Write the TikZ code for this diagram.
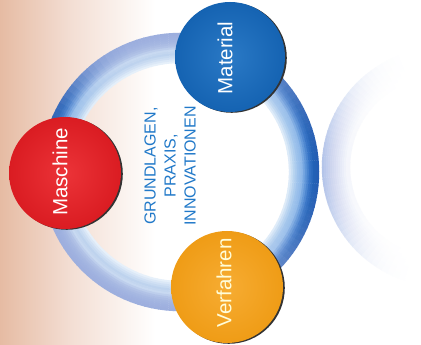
\documentclass[tikz,border=0pt]{standalone}
\usepackage{fontspec}
\setmainfont{Liberation Sans}
\usetikzlibrary{calc}
\definecolor{bgsalmon}{HTML}{E6BBA3}
\definecolor{bgmid}{HTML}{F3DED3}
\definecolor{matblue}{HTML}{1A6FC1}
\definecolor{matdark}{HTML}{1563B2}
\definecolor{masred}{HTML}{EA2429}
\definecolor{masdark}{HTML}{DA1C22}
\definecolor{verorange}{HTML}{F6A623}
\definecolor{verdark}{HTML}{EF9C16}
\definecolor{txtblue}{HTML}{2179C9}
% light ring profile (inner -> outer)
\definecolor{L1}{HTML}{E6F0FA}\definecolor{L2}{HTML}{D0E0F4}\definecolor{L3}{HTML}{BED3EE}
\definecolor{L4}{HTML}{C8D9F1}\definecolor{L5}{HTML}{B2C3E7}\definecolor{L6}{HTML}{A6B8E2}
\definecolor{L7}{HTML}{A0B2E0}\definecolor{L8}{HTML}{9DAFDE}
% dark ring profile
\definecolor{D1}{HTML}{DCEAF8}\definecolor{D2}{HTML}{B8D4F0}\definecolor{D3}{HTML}{9CC2EC}
\definecolor{D4}{HTML}{8AB6E8}\definecolor{D5}{HTML}{5A93D8}\definecolor{D6}{HTML}{2E6FC4}
\definecolor{D7}{HTML}{1A5DB4}\definecolor{D8}{HTML}{1C58B0}
% faint ring profile (outer -> inner)
\definecolor{F1}{HTML}{A9BCE6}\definecolor{F2}{HTML}{B8C6EA}\definecolor{F3}{HTML}{C6CFEC}
\definecolor{F4}{HTML}{D2D8F0}\definecolor{F5}{HTML}{DDE2F4}\definecolor{F6}{HTML}{E8ECF8}
\definecolor{F7}{HTML}{F3F5FB}
\tikzset{
  ballnode/.style={circle, minimum size=#1, inner sep=0pt},
  balltext/.style={rotate=90, font=\fontsize{20.5}{24}\selectfont},
  shadowfill/.style={fill=black!80}
}
\begin{document}
\begin{tikzpicture}[x=1pt,y=1pt]
\useasboundingbox (0,0) rectangle (421,345);
\clip (0,0) rectangle (421,345);
% background
\fill[white] (0,0) rectangle (421,345);
\shade[left color=bgsalmon, right color=bgmid] (0,0) rectangle (70,345);
\shade[left color=bgmid, right color=white] (70,0) rectangle (155,345);
% faint ring on the right
\coordinate (rc) at (441,178);
\foreach \a in {96,99,...,264}{
  \pgfmathtruncatemacro{\w}{88*(abs(cos(\a)))^4}
  \foreach \i/\j/\r in {1/1/118,1/2/116,2/2/114,2/3/112,3/3/110,3/4/108,4/4/106,4/5/104,5/5/102,5/6/100,6/6/98,6/7/96,7/7/94,7/7/92}{
    \colorlet{ca}{F\i!50!F\j}
    \colorlet{tmpc}{ca!\w!white}
    \draw[tmpc, line width=2.4pt] ($(rc)+(\a:\r)$) arc[start angle=\a, end angle=\a+3.4, radius=\r];
  }
}
% main ring
\coordinate (ringc) at (180,173);
\foreach \a in {0,3,...,357}{
  \pgfmathsetmacro{\wa}{(\a<90 || \a>270) ? 0.95*(cos(\a))^2 : 0}
  \pgfmathsetmacro{\wb}{0.85*(max(0,cos(\a-158)))^10}
  \pgfmathtruncatemacro{\w}{100*max(\wa,\wb)}
  \foreach \i/\j/\r in {1/1/110,1/2/112,2/2/114,2/3/116,3/3/118,3/4/120,4/4/122,4/5/124,5/5/126,5/6/128,6/6/130,6/7/132,7/7/134,7/8/136,8/8/138}{
    \colorlet{ca}{D\i!50!D\j}
    \colorlet{cb}{L\i!50!L\j}
    \colorlet{tmpc}{ca!\w!cb}
    \draw[tmpc, line width=2.4pt] ($(ringc)+(\a:\r)$) arc[start angle=\a, end angle=\a+3.4, radius=\r];
  }
}
% center text
\node[rotate=90, align=center, text=txtblue, font=\fontsize{16}{20}\selectfont] (center) at (170,179) {GRUNDLAGEN,\\PRAXIS,\\INNOVATIONEN};
% Material
\fill[shadowfill] (231.8,287.2) circle (55);
\node[ballnode=110pt, inner color=matblue!93!white, outer color=matdark] (mat) at (230,288) {};
\node[balltext, text=white] (mattxt) at (225,287) {Material};
% Maschine
\fill[shadowfill] (66.8,171.2) circle (56);
\node[ballnode=112pt, inner color=masred!93!white, outer color=masdark] (mas) at (65,172) {};
\node[balltext, text=white] (mastxt) at (60,173) {Maschine};
% Verfahren
\fill[shadowfill] (228.8,57.2) circle (56);
\node[ballnode=112pt, inner color=verorange!93!white, outer color=verdark] (ver) at (227,58) {};
\node[balltext, text=white!85!yellow] (vertxt) at (224,62) {Verfahren};
\end{tikzpicture}
\end{document}
